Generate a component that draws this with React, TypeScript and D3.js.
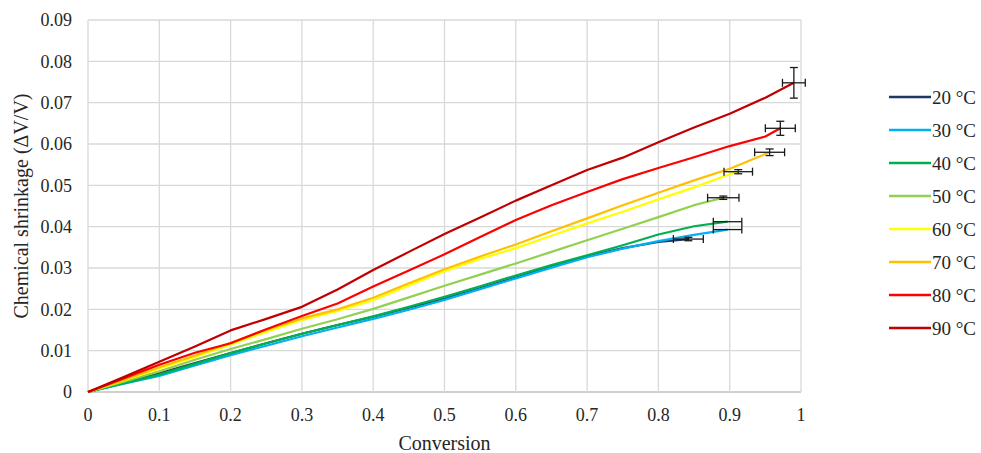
import { useRef, useEffect } from "react";
import * as d3 from "d3";

const labels = ["20 °C", "30 °C", "40 °C", "50 °C", "60 °C", "70 °C", "80 °C", "90 °C"];
const colors = ["#1f3864", "#00b0f0", "#00b050", "#92d050", "#ffff00", "#ffc000", "#ff0000", "#c00000"];

// conversion grid shared by every curve
const conversionGrid = [0, 0.05, 0.1, 0.15, 0.2, 0.25, 0.3, 0.35, 0.4, 0.45, 0.5, 0.55, 0.6, 0.65, 0.7, 0.75, 0.8, 0.85, 0.9, 0.95];

const shrink20 = [0, 0.0022, 0.0045, 0.007, 0.0094, 0.0118, 0.0141, 0.0162, 0.0182, 0.0204, 0.0226, 0.0251, 0.0277, 0.0303, 0.0328, 0.0348, 0.0363];
const shrink30 = [0, 0.002, 0.0039, 0.0064, 0.0089, 0.0112, 0.0135, 0.0156, 0.0177, 0.0199, 0.0223, 0.0249, 0.0275, 0.0301, 0.0326, 0.0347, 0.0365, 0.038];
const shrink40 = [0, 0.0021, 0.0042, 0.0068, 0.0094, 0.0118, 0.0141, 0.0162, 0.0183, 0.0206, 0.023, 0.0256, 0.0282, 0.0307, 0.0331, 0.0355, 0.0381, 0.0401];
const shrink50 = [0, 0.0025, 0.005, 0.0078, 0.0104, 0.0128, 0.0153, 0.0176, 0.0201, 0.0229, 0.0257, 0.0284, 0.0311, 0.0339, 0.0367, 0.0395, 0.0423, 0.0452];
const shrink60 = [0, 0.0028, 0.0057, 0.0085, 0.0115, 0.0145, 0.0174, 0.0196, 0.0222, 0.0258, 0.0292, 0.0322, 0.0348, 0.0378, 0.0408, 0.0436, 0.0466, 0.0495, 0.0527];
const shrink70 = [0, 0.0029, 0.006, 0.0088, 0.0119, 0.015, 0.0178, 0.02, 0.0228, 0.0263, 0.0297, 0.0328, 0.0357, 0.0389, 0.042, 0.0452, 0.0482, 0.0512, 0.054];
const shrink80 = [0, 0.0033, 0.0066, 0.0095, 0.0118, 0.0152, 0.0184, 0.0214, 0.0255, 0.0294, 0.0333, 0.0375, 0.0416, 0.0452, 0.0484, 0.0515, 0.0542, 0.0568, 0.0595, 0.0618];
const shrink90 = [0, 0.0036, 0.0073, 0.011, 0.0149, 0.0177, 0.0206, 0.0248, 0.0295, 0.0339, 0.0382, 0.0422, 0.0463, 0.05, 0.0537, 0.0567, 0.0604, 0.064, 0.0673, 0.0712];

// final point of each curve (where the error bars sit)
const endConversion = [0.842, 0.897, 0.897, 0.891, 0.912, 0.956, 0.971, 0.99];
const endShrinkage = [0.037, 0.0393, 0.0412, 0.047, 0.0533, 0.058, 0.0638, 0.0748];
const errConversion = [0.021, 0.02, 0.02, 0.022, 0.02, 0.021, 0.021, 0.016];
const errShrinkage = [0.0004, 0, 0, 0.0004, 0.0005, 0.0008, 0.0017, 0.0037];

const xTicks = [0, 0.1, 0.2, 0.3, 0.4, 0.5, 0.6, 0.7, 0.8, 0.9, 1];
const yTicks = [0, 0.01, 0.02, 0.03, 0.04, 0.05, 0.06, 0.07, 0.08, 0.09];

const allShrink = [shrink20, shrink30, shrink40, shrink50, shrink60, shrink70, shrink80, shrink90];

export default function App() {
  const ref = useRef<SVGSVGElement>(null);

  useEffect(() => {
    document.body.style.margin = "0";
    const w = 981;
    const h = 453;
    const m = { left: 88, right: 180, top: 20, bottom: 61 };
    const font = "'Liberation Serif', 'Times New Roman', serif";

    const x = d3.scaleLinear().domain([0, 1]).range([m.left, w - m.right]);
    const y = d3.scaleLinear().domain([0, 0.09]).range([h - m.bottom, m.top]);

    const svg = d3.select(ref.current);
    svg.selectAll("*").remove();
    svg.append("rect").attr("width", w).attr("height", h).attr("fill", "white");

    // grid
    svg
      .append("g")
      .selectAll("line")
      .data(yTicks)
      .enter()
      .append("line")
      .attr("x1", x(0))
      .attr("x2", x(1))
      .attr("y1", (d) => y(d))
      .attr("y2", (d) => y(d))
      .attr("stroke", (d) => (d === 0 ? "#bfbfbf" : "#d9d9d9"))
      .attr("stroke-width", 1.3);

    svg
      .append("g")
      .selectAll("line")
      .data(xTicks)
      .enter()
      .append("line")
      .attr("x1", (d) => x(d))
      .attr("x2", (d) => x(d))
      .attr("y1", y(0))
      .attr("y2", y(0.09))
      .attr("stroke", "#d9d9d9")
      .attr("stroke-width", 1.3);

    // tick labels
    svg
      .append("g")
      .selectAll("text")
      .data(yTicks)
      .enter()
      .append("text")
      .text((d) => String(d))
      .attr("x", 72)
      .attr("y", (d) => y(d))
      .attr("dy", "0.35em")
      .attr("text-anchor", "end")
      .attr("font-family", font)
      .attr("font-size", "18px")
      .attr("fill", "#262626");

    svg
      .append("g")
      .selectAll("text")
      .data(xTicks)
      .enter()
      .append("text")
      .text((d) => String(d))
      .attr("x", (d) => x(d))
      .attr("y", 421)
      .attr("text-anchor", "middle")
      .attr("font-family", font)
      .attr("font-size", "18px")
      .attr("fill", "#262626");

    // axis titles
    svg
      .append("text")
      .text("Conversion")
      .attr("x", x(0.5))
      .attr("y", 450)
      .attr("text-anchor", "middle")
      .attr("font-family", font)
      .attr("font-size", "20px")
      .attr("fill", "#262626");

    svg
      .append("text")
      .text("Chemical shrinkage (ΔV/V)")
      .attr("transform", `translate(28, ${y(0.045)}) rotate(-90)`)
      .attr("text-anchor", "middle")
      .attr("font-family", font)
      .attr("font-size", "20px")
      .attr("fill", "#262626");

    // curves
    const line = d3
      .line<[number, number]>()
      .x((d) => x(d[0]))
      .y((d) => y(d[1]));

    allShrink.forEach((vals, i) => {
      const pts: [number, number][] = vals.map((v, j) => [conversionGrid[j], v]);
      pts.push([endConversion[i], endShrinkage[i]]);
      svg
        .append("path")
        .attr("d", line(pts))
        .attr("fill", "none")
        .attr("stroke", colors[i])
        .attr("stroke-width", 2.2)
        .attr("stroke-linejoin", "round");
    });

    // error bars
    const cap = 4;
    const eb = svg.append("g").attr("stroke", "#1a1a1a").attr("stroke-width", 1.3);
    endConversion.forEach((cx, i) => {
      const cy = endShrinkage[i];
      const x0 = x(cx - errConversion[i]);
      const x1 = x(cx + errConversion[i]);
      eb.append("line").attr("x1", x0).attr("x2", x1).attr("y1", y(cy)).attr("y2", y(cy));
      eb.append("line").attr("x1", x0).attr("x2", x0).attr("y1", y(cy) - cap).attr("y2", y(cy) + cap);
      eb.append("line").attr("x1", x1).attr("x2", x1).attr("y1", y(cy) - cap).attr("y2", y(cy) + cap);
      if (errShrinkage[i] > 0) {
        const y0 = y(cy - errShrinkage[i]);
        const y1 = y(cy + errShrinkage[i]);
        eb.append("line").attr("x1", x(cx)).attr("x2", x(cx)).attr("y1", y0).attr("y2", y1);
        eb.append("line").attr("x1", x(cx) - cap).attr("x2", x(cx) + cap).attr("y1", y0).attr("y2", y0);
        eb.append("line").attr("x1", x(cx) - cap).attr("x2", x(cx) + cap).attr("y1", y1).attr("y2", y1);
      }
    });

    // legend
    const lg = svg
      .append("g")
      .selectAll("g")
      .data(labels)
      .enter()
      .append("g")
      .attr("transform", (d, i) => `translate(889, ${97 + i * 33})`);
    lg.append("line")
      .attr("x1", 0)
      .attr("x2", 42)
      .attr("stroke", (d, i) => colors[i])
      .attr("stroke-width", 2.5);
    lg.append("text")
      .text((d) => d)
      .attr("x", 43)
      .attr("dy", "0.35em")
      .attr("font-family", font)
      .attr("font-size", "19px")
      .attr("fill", "#262626");
  }, []);

  return <svg ref={ref} width={981} height={453} style={{ display: "block" }}></svg>;
}
